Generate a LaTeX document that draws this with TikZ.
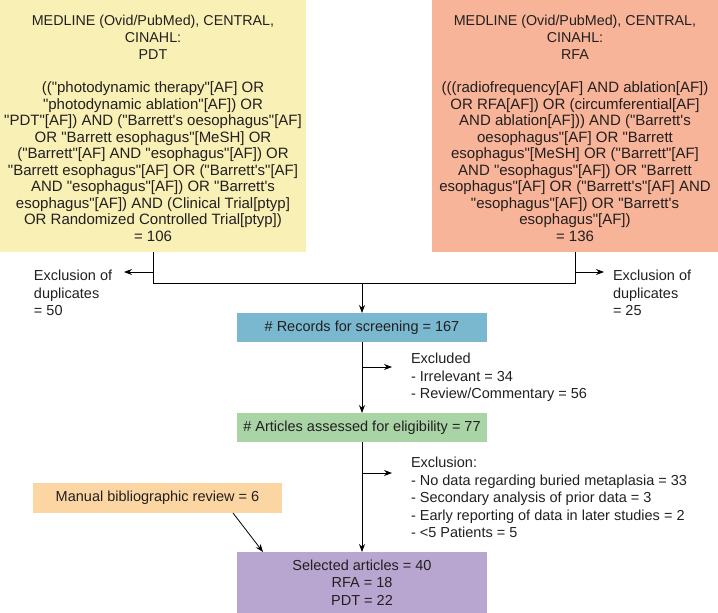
\documentclass[tikz,border=0pt]{standalone}
\usepackage{fontspec}
\setmainfont{Liberation Sans}[Ligatures=TeXOff]
\usetikzlibrary{arrows.meta}
\definecolor{cyel}{RGB}{249,240,181}
\definecolor{csal}{RGB}{247,180,152}
\definecolor{cblu}{RGB}{122,184,208}
\definecolor{cgrn}{RGB}{168,212,166}
\definecolor{cora}{RGB}{252,214,162}
\definecolor{cpur}{RGB}{184,166,208}
\definecolor{ctxt}{RGB}{35,31,32}
\begin{document}
\begin{tikzpicture}[x=1pt,y=-1pt,
  bigbox/.style={inner sep=0pt, outer sep=0pt, anchor=north west},
  flowbox/.style={inner sep=0pt, outer sep=0pt, anchor=north west, align=center,
    text=ctxt, font=\fontsize{14.5}{17.5}\selectfont},
  txt/.style={inner sep=0pt, outer sep=0pt, text=ctxt, font=\fontsize{14.5}{17.5}\selectfont},
  headtxt/.style={txt, align=center, anchor=north, font=\fontsize{14.3}{16.7}\selectfont},
  qtxt/.style={txt, align=center, anchor=north, font=\fontsize{15}{16.5}\selectfont},
  conn/.style={line width=0.8pt, draw=black},
  arr/.style={conn, -{Stealth[length=8pt,width=6pt]}}]
\useasboundingbox (0,0) rectangle (718,613);

% top boxes
\node[bigbox, fill=cyel, minimum width=306pt, minimum height=252pt] (pdt) at (0,0) {};
\node[bigbox, fill=csal, minimum width=286pt, minimum height=252pt] (rfa) at (432,0) {};

\node[headtxt] (pdthead) at (153,15.5)
  {MEDLINE (Ovid/PubMed), CENTRAL,\\CINAHL:\\PDT};
\node[qtxt] (pdtq) at (153,82)
  {(("photodynamic therapy"[AF] OR\\
  "photodynamic ablation"[AF]) OR\\
  "PDT"[AF]) AND ("Barrett's oesophagus"[AF]\\
  OR "Barrett esophagus"[MeSH] OR\\
  ("Barrett"[AF] AND "esophagus"[AF]) OR\\
  "Barrett esophagus"[AF] OR ("Barrett's"[AF]\\
  AND "esophagus"[AF]) OR "Barrett's\\
  esophagus"[AF]) AND (Clinical Trial[ptyp]\\
  OR Randomized Controlled Trial[ptyp])\\
  = 106};

\node[headtxt] (rfahead) at (575,15.5)
  {MEDLINE (Ovid/PubMed), CENTRAL,\\CINAHL:\\RFA};
\node[qtxt] (rfaq) at (575,82)
  {(((radiofrequency[AF] AND ablation[AF])\\
  OR RFA[AF]) OR (circumferential[AF]\\
  AND ablation[AF])) AND ("Barrett's\\
  oesophagus"[AF] OR "Barrett\\
  esophagus"[MeSH] OR ("Barrett"[AF]\\
  AND "esophagus"[AF]) OR "Barrett\\
  esophagus"[AF] OR ("Barrett's"[AF] AND\\
  "esophagus"[AF]) OR "Barrett's\\
  esophagus"[AF])\\
  = 136};

% merge
\coordinate (mC) at (362,283);
\draw[conn] (pdt.south) -- (pdt.south |- mC) -- (rfa.south |- mC) -- (rfa.south);

\coordinate (exLtip) at (124,272);
\coordinate (exRtip) at (604,272);
\draw[arr] (pdt.south |- exLtip) -- (exLtip);
\draw[arr] (rfa.south |- exRtip) -- (exRtip);
\node[txt, align=left, anchor=north west] (exL) at (34,270)
  {Exclusion of\\duplicates\\= 50};
\node[txt, align=left, anchor=north west] (exR) at (613,270)
  {Exclusion of\\duplicates\\= 25};

% flow boxes
\node[flowbox, fill=cblu, minimum width=250pt, minimum height=29pt] (rec) at (237,313)
  {\# Records for screening = 167};
\node[flowbox, fill=cgrn, minimum width=250pt, minimum height=29pt] (art) at (237,413)
  {\# Articles assessed for eligibility = 77};
\node[flowbox, fill=cora, minimum width=249pt, minimum height=30pt] (man) at (33,483)
  {Manual bibliographic review = 6};
\node[flowbox, fill=cpur, minimum width=250pt, minimum height=61pt] (sel) at (237,552)
  {Selected articles = 40\\RFA = 18\\PDT = 22};

\draw[arr] (mC) -- (rec.north);
\draw[arr] (rec.south) -- (art.north);
\draw[arr] (art.south) -- (sel.north);

\coordinate (ex1tip) at (392,367);
\coordinate (ex2tip) at (392,473);
\draw[arr] (rec.south |- ex1tip) -- (ex1tip);
\draw[arr] (art.south |- ex2tip) -- (ex2tip);

\node[txt, align=left, anchor=north west] (ex1) at (411,353)
  {Excluded\\- Irrelevant = 34\\- Review/Commentary = 56};
\node[txt, align=left, anchor=north west] (ex2) at (411,457)
  {Exclusion:\\- No data regarding buried metaplasia = 33\\- Secondary analysis of prior data = 3\\- Early reporting of data in later studies = 2\\- <5 Patients = 5};

\draw[arr] ([xshift=-49pt]man.south east) -- ([xshift=26pt]sel.north west);
\end{tikzpicture}
\end{document}
